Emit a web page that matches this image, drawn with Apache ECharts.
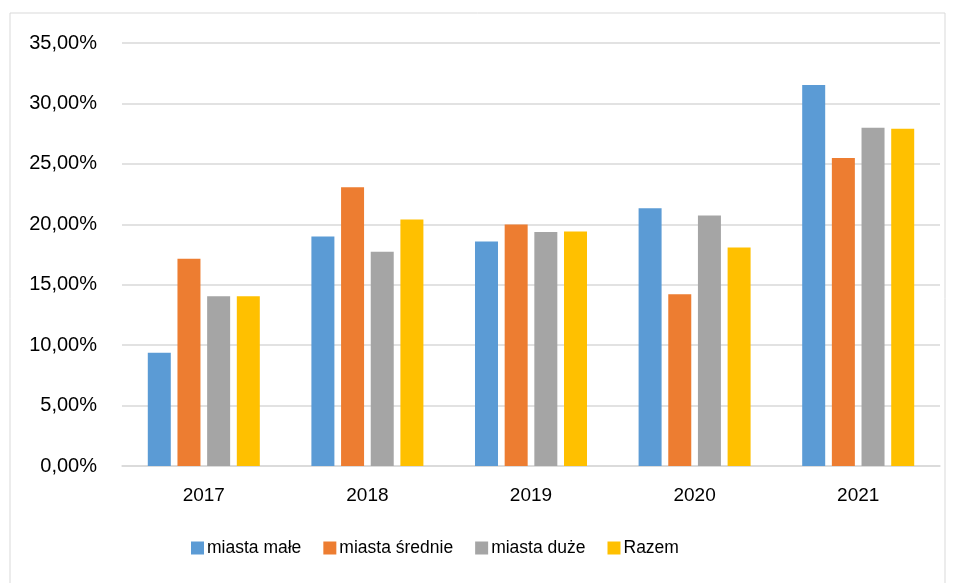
<!DOCTYPE html>
<html>
<head>
<meta charset="utf-8">
<script src="https://cdn.jsdelivr.net/npm/echarts@6/dist/echarts.min.js"></script>
<style>
  html, body { margin: 0; padding: 0; background: #fff; }
  #chart { width: 957px; height: 583px; }
</style>
</head>
<body>
<div id="chart"></div>
<script>
// lata
const years = ['2017', '2018', '2019', '2020', '2021'];

// udziały w procentach
const miastaMale = [9.37, 18.98, 18.57, 21.32, 31.52];
const miastaSrednie = [17.14, 23.06, 19.98, 14.21, 25.49];
const miastaDuze = [14.05, 17.72, 19.37, 20.72, 27.99];
const razem = [14.05, 20.39, 19.40, 18.07, 27.90];

const seriesNames = ['miasta małe', 'miasta średnie', 'miasta duże', 'Razem'];
const colors = ['#5B9BD5', '#ED7D31', '#A5A5A5', '#FFC000'];

const chart = echarts.init(document.getElementById('chart'));
const font = 'Liberation Sans, Arial, sans-serif';

function makeSeries(name, data, color) {
  return {
    name: name,
    type: 'bar',
    data: data,
    barWidth: 23,
    barGap: '29%',
    itemStyle: { color: color }
  };
}

const option = {
  animation: false,
  color: colors,
  graphic: [{
    type: 'rect',
    shape: { x: 10, y: 13, width: 935, height: 600 },
    style: { fill: 'none', stroke: '#D9D9D9', lineWidth: 1 },
    silent: true
  }],
  grid: {
    left: 122,
    right: 17,
    top: 43,
    bottom: 117
  },
  legend: {
    bottom: 21,
    left: 186,
    itemWidth: 13,
    itemHeight: 13,
    itemGap: 22,
    icon: 'rect',
    textStyle: { fontFamily: font, fontSize: 17.5, color: '#000', padding: [0, 0, 0, -2] },
    data: seriesNames
  },
  xAxis: {
    type: 'category',
    data: years,
    axisLine: { lineStyle: { color: '#D9D9D9', width: 1.5 } },
    axisTick: { show: false },
    axisLabel: { fontFamily: font, fontSize: 19, color: '#000', margin: 20 }
  },
  yAxis: {
    type: 'value',
    min: 0,
    max: 35,
    interval: 5,
    axisLine: { show: false },
    axisTick: { show: false },
    splitLine: { lineStyle: { color: '#D9D9D9', width: 1.5 } },
    axisLabel: {
      fontFamily: font,
      fontSize: 20,
      color: '#000',
      margin: 25,
      formatter: function (v) {
        return v.toFixed(2).replace('.', ',') + '%';
      }
    }
  },
  series: [
    makeSeries(seriesNames[0], miastaMale, colors[0]),
    makeSeries(seriesNames[1], miastaSrednie, colors[1]),
    makeSeries(seriesNames[2], miastaDuze, colors[2]),
    makeSeries(seriesNames[3], razem, colors[3])
  ]
};

chart.setOption(option);
</script>
</body>
</html>
